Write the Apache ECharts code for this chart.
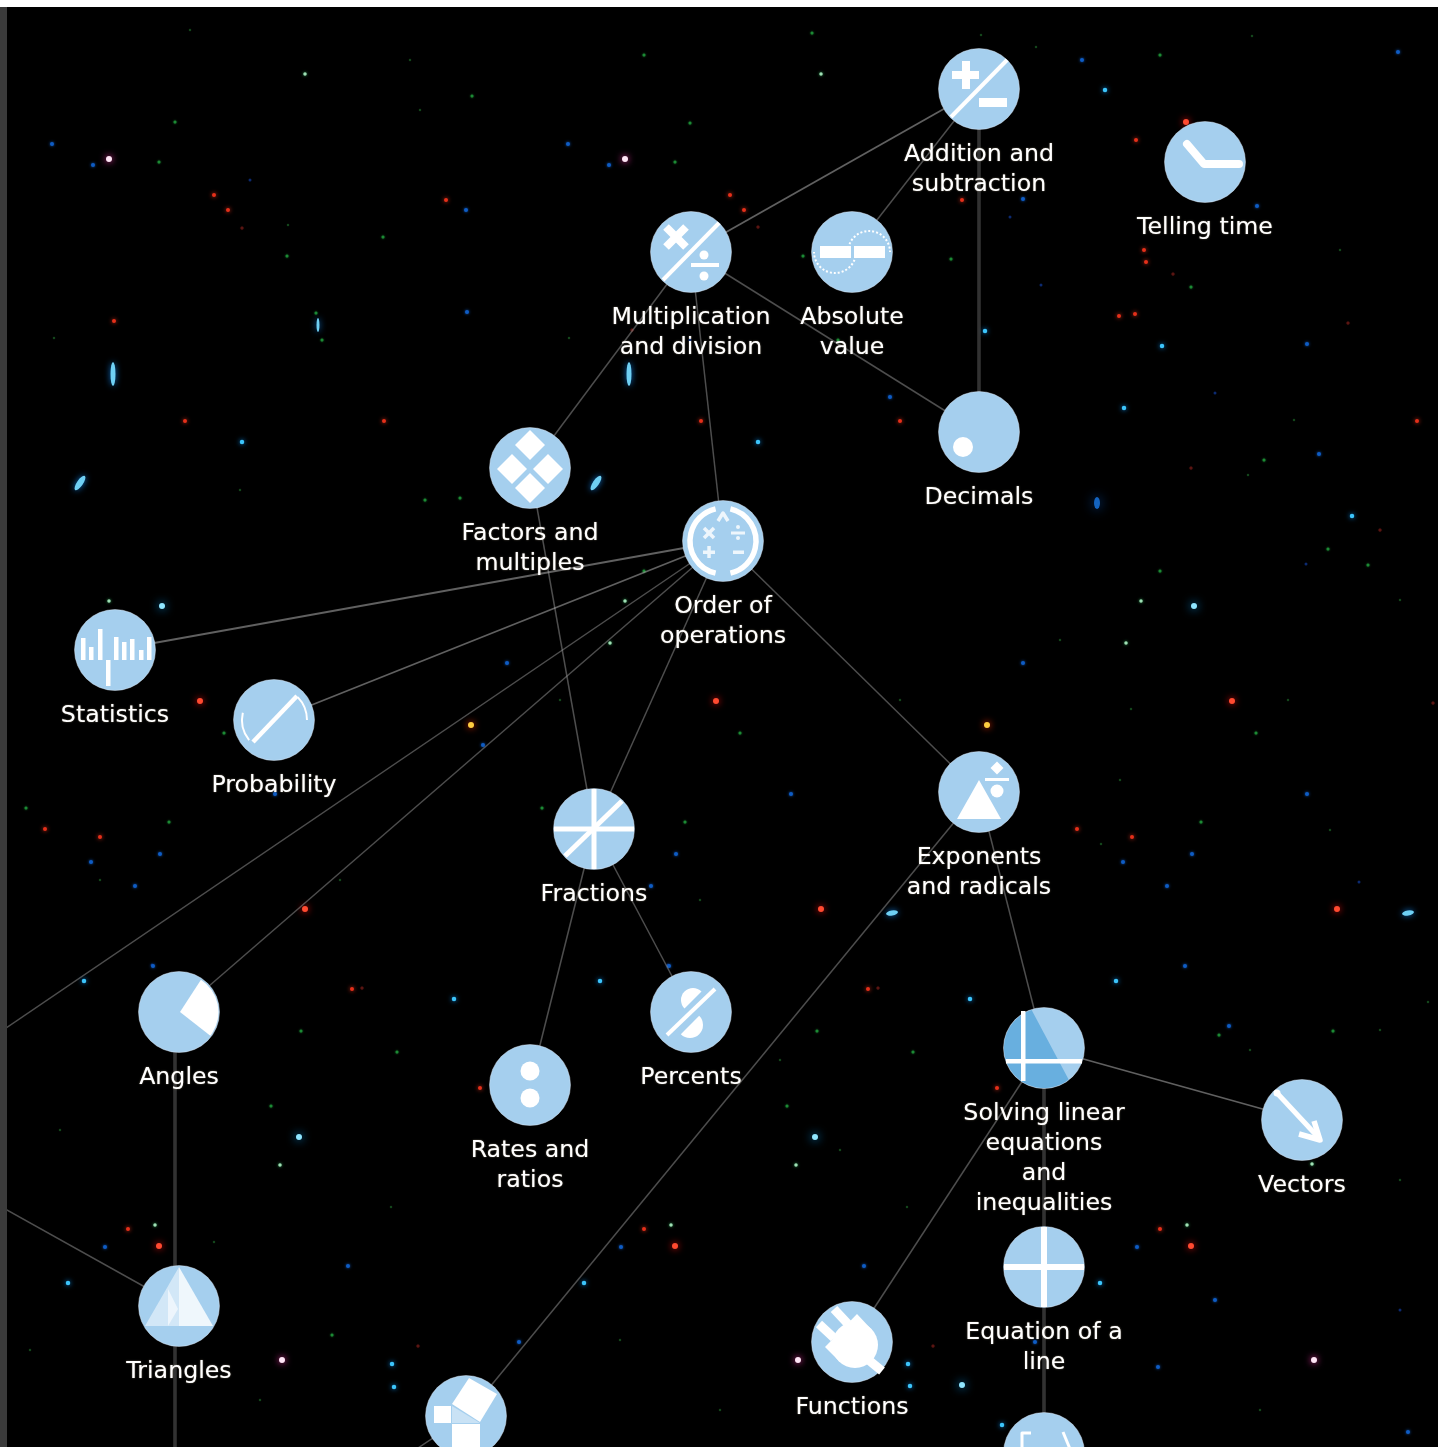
<!DOCTYPE html>
<html><head><meta charset="utf-8">
<style>html,body{margin:0;padding:0;background:#fff}#c{width:1438px;height:1453px}</style>
<script src="https://cdn.jsdelivr.net/npm/echarts@6/dist/echarts.min.js"></script>
</head><body><div id="c"></div>
<script>
// ---- data ----
const nodeNames = ['Addition and\nsubtraction','Telling time','Multiplication\nand division','Absolute\nvalue','Decimals','Factors and\nmultiples','Order of\noperations','Statistics','Probability','Fractions','Exponents\nand radicals','Angles','Percents','Rates and\nratios','Solving linear\nequations\nand\ninequalities','Vectors','Equation of a\nline','Triangles','Functions','Pythagorean theorem','Matrices', 'a','b','c','d','e','f'];
const nodeX = [979,1205,691,852,979,530,723,115,274,594,979,179,691,530,1044,1302,1044,179,852,466,1044, -10,-20,175,175,175,400];
const nodeY = [89,162,252,252,432,468,541,650,720,829,792,1012,1012,1085,1048,1120,1267,1306,1342,1416,1453, 1039,1195,1040,1470,1040,1460];
const nodeIcons = ['plusminus','clock','timesdiv','absolute','decimal','factors','order','stats','prob','fractions','exponents','angles','percents','rates','solving','vectors','equation','triangles','plug','pyth','matrix'];
const edgesThin = [[0,3],[2,4],[2,5],[2,6],[5,9],[6,9],[6,10],[6,21],[6,11],[9,13],[9,12],[10,14],[10,19],[14,18],[17,22],[19,26]];
const edgesBright = [[0,2],[6,7],[6,8],[14,15]];
const edgesThick = [[0,4],[14,16],[16,20],[23,24]];
const starsPink = [[109,159],[625,159],[282,1360],[798,1360],[1314,1360]];
const starsCyanBig = [[162,606],[1194,606],[299,1137],[815,1137],[962,1385]];
const starsCyan = [[1105,90],[985,331],[1162,346],[242,442],[758,442],[1352,516],[84,981],[600,981],[1116,981],[454,999],[970,999],[392,1364],[908,1364],[1100,1283],[1002,1425],[68,1283],[584,1283],[1124,408],[394,1387],[910,1386]];
const starsBlue = [[93,165],[609,165],[52,144],[568,144],[467,312],[890,397],[1398,52],[1215,1300],[1408,1432],[160,854],[676,854],[1192,854],[91,862],[607,862],[1123,862],[135,886],[651,886],[1167,886],[153,966],[669,966],[1185,966],[483,745],[348,1266],[864,1266],[507,663],[1023,663],[519,1342],[1035,1342],[105,1247],[621,1247],[1137,1247],[1307,344],[1319,454],[1307,794],[791,794],[275,794],[1229,1026],[713,1026],[197,1026],[1082,60],[1023,199],[1257,206],[466,210],[1158,1367]];
const starsRedBig = [[200,701],[716,701],[1232,701],[305,909],[821,909],[1337,909],[159,1246],[675,1246],[1191,1246],[1186,122]];
const starsRed = [[352,989],[868,989],[45,829],[561,829],[1077,829],[128,1229],[644,1229],[1160,1229],[185,421],[701,421],[384,421],[900,421],[1417,421],[1136,140],[1144,250],[1146,262],[1119,316],[1135,314],[114,321],[228,210],[744,210],[214,195],[730,195],[446,200],[962,200],[480,1088],[997,1088],[100,837],[616,837],[1132,837]];
const starsOrange = [[471,725],[987,725]];
const starsGreen = [[224,733],[740,733],[1256,733],[425,500],[460,498],[169,822],[685,822],[1201,822],[159,162],[675,162],[644,55],[1160,55],[812,33],[287,256],[803,256],[1191,287],[322,340],[838,340],[316,313],[301,1031],[817,1031],[1333,1031],[397,1052],[913,1052],[271,1106],[787,1106],[1303,1106],[187,1035],[703,1035],[1219,1035],[332,1335],[848,1335],[1160,571],[644,571],[1328,549],[1368,565],[26,808],[542,808],[1264,460],[472,96],[175,122],[690,123],[383,237],[951,259]];
const starsPale = [[305,74],[821,74],[1126,643],[610,643],[94,643],[1141,601],[625,601],[109,601],[280,1165],[796,1165],[1312,1164],[155,1225],[671,1225],[1187,1225]];
const starsDimGreen = [[190,30],[410,60],[420,110],[288,225],[54,338],[569,338],[1294,420],[1248,475],[1288,700],[1131,709],[1101,844],[391,1207],[907,1207],[214,1242],[1428,1002],[981,35],[1252,36],[1036,47],[240,490],[560,700],[1340,250],[1400,600],[1060,640],[900,700],[100,880],[340,880],[700,900],[1330,830],[780,1060],[1250,1050],[1380,1030],[1400,1180],[620,1340],[720,1410],[1260,1410],[260,1400],[60,1130],[30,1350],[840,1150],[1120,780]];
const starsDimBlue = [[1215,393],[1306,564],[1359,882],[152,965],[668,965],[1010,217],[1041,285],[1400,1310],[690,340],[250,180]];
const starsDimRed = [[758,227],[242,228],[1173,274],[1348,323],[1191,468],[1380,530],[1433,703],[362,988],[878,988],[418,1346],[933,1346],[632,330]];
// x, y, width, height, rotation
const galaxies = [[80,483,6,17,-35],[596,483,6,17,-35],[113,374,5,24,0],[629,374,5,24,0],[318,325,3,14,0],[892,913,12,5,10],[1408,913,12,5,10]];
const dimGalaxies = [[1097,503,6,12,0]];

// ---- icons, drawn in pixels around each node centre ----
const W = '#fff';
const ln = (x1,y1,x2,y2,w,c,cap) => ({type:'line',shape:{x1,y1,x2,y2},style:{stroke:c||W,lineWidth:w,lineCap:cap||'butt',fill:null}});
const rc = (x,y,w,h,c) => ({type:'rect',shape:{x,y,width:w,height:h},style:{fill:c||W}});
const ci = (cx,cy,r,c) => ({type:'circle',shape:{cx,cy,r},style:{fill:c||W}});
const pg = (pts,c) => ({type:'polygon',shape:{points:pts},style:{fill:c||W}});
const pl = (pts,w,c,cap) => ({type:'polyline',shape:{points:pts},style:{stroke:c||W,lineWidth:w,fill:null,lineCap:cap||'butt',lineJoin:'round'}});
const sc = (cx,cy,r,a0,a1) => ({type:'sector',shape:{cx,cy,r,r0:0,startAngle:a0*Math.PI/180,endAngle:a1*Math.PI/180,clockwise:true},style:{fill:W}});
const ar = (cx,cy,r,a0,a1,w,dash,c) => ({type:'arc',shape:{cx,cy,r,startAngle:a0*Math.PI/180,endAngle:a1*Math.PI/180,clockwise:true},style:{stroke:c||W,lineWidth:w,fill:null,lineDash:dash||null}});
const dm = (x,y,h) => pg([[x,y-h],[x+h,y],[x,y+h],[x-h,y]]);
const chord = (a0,a1) => { const p=[]; for(let a=a0;a<=a1;a+=4) p.push([40*Math.cos(a*Math.PI/180),40*Math.sin(a*Math.PI/180)]); return p; };
const P = '#eef6fc';
const icons = {
  plusminus:[ln(-28,28,28,-29,4),rc(-27,-18,27,8),rc(-17,-28,8,28),rc(0,9,28,9)],
  timesdiv:[ln(-28,28,28,-29,4),ln(-25,-25,-5,-5,8),ln(-5,-25,-25,-5,8),rc(0,11,28,4),ci(13,3,4.5),ci(13,24,4.5)],
  clock:[pl([[-18,-18],[-1,2],[34,2]],8,W,'round')],
  absolute:[rc(-32,-6,31,12),rc(2,-6,31,12),ar(17,0,21,180,360,2,[2,2]),ar(-17,0,21,0,180,2,[2,2])],
  decimal:[ci(-16,15,10)],
  factors:[dm(0,-23,15),dm(-18,1,15),dm(18,1,15),dm(0,20,15)],
  order:[ar(0,0,33,-77,77,5.5),ar(0,0,33,103,257,5.5),pl([[-5,-20],[0,-28],[5,-20]],3.5,P),ln(-19,-13,-9,-3,3.5,P),ln(-9,-13,-19,-3,3.5,P),rc(8,-9.5,14,3,P),ci(15,-14,2,P),ci(15,-3,2,P),rc(-20,9.5,12,3.5,P),rc(-15.7,5,3.5,12,P),rc(10,9.5,11,3.5,P)],
  stats:[rc(-34,-12,4.5,22),rc(-26,-3,4.5,13),rc(-17,-21,4.5,31),rc(-9,10,4.5,26),rc(-1,-13,4.5,23),rc(7,-8,4.5,18),rc(15,-11,4.5,21),rc(24,0,4.5,10),rc(32,-13,4.5,23)],
  prob:[ln(-21,22,23,-24,4.5),ar(0,0,32,141,193,2),ar(0,0,33,-44,0,2)],
  fractions:[rc(-40,-2.5,80,5),rc(-2.5,-40,5,80),ln(-29,27,28,-28,5)],
  exponents:[pg([[0,-12],[22,27],[-22,27]]),dm(18,-24,6.5),rc(6,-14,24,3),ci(18,-1,6.5)],
  angles:[sc(1,0,38.5,-57,38)],
  percents:[ln(-24,23,24,-23,4),sc(2,-12,12,135,315),sc(-1,13,13,-45,135)],
  rates:[ci(0,-14,9.5),ci(0,13,9.5)],
  solving:[pg(chord(52,252),'#68afdf'),rc(-23,-37,4.5,70),rc(-38,11,76,4.5)],
  vectors:[ln(-25,-27,16,17,5),ci(-25,-27,3.5),pl([[12,1],[18,20],[-3,14]],5.5)],
  equation:[rc(-40,-3,80,6),rc(-3,-40,6,80)],
  triangles:[pg([[0,-39],[-34,20],[0,20]],'rgba(255,255,255,.5)'),pg([[0,-39],[0,20],[34,20]],'rgba(255,255,255,.82)'),pg([[-11,-17],[-11,20],[-1,3]],'rgba(255,255,255,.6)')],
  plug:[ln(-18,-33,-4,-18,9),ln(-33,-18,-18,-4,9),pg([[5,-28],[-27,5],[-12,20],[20,-12]]),ci(3,3,23),ln(13,15,30,29,9)],
  pyth:[pg([[3,-38],[31,-22],[14,6],[-14,-12]]),rc(-32,-10,17,17),rc(-14,8,28,32),pg([[-14,-10],[14,7],[-14,7]],'#c9e2f5')],
  matrix:[pl([[-13,-20],[-22,-20],[-22,2]],3),pl([[19,-21],[26,-4]],3)]
};

const graphNodes = nodeNames.map((name,i) => ({
  id:'n'+i, name, value:[nodeX[i],nodeY[i]],
  symbolSize: i<21 ? 81 : 0,
  label:{show: i<19}
}));
const edgeStyle = {
  thin:{color:'#9a9a9a',width:1.5},
  bright:{color:'#c0c0c0',width:1.8},
  thick:{color:'#646464',width:3.6}
};
const mk = (list,k) => list.map(e => ({source:'n'+e[0],target:'n'+e[1],lineStyle:edgeStyle[k]}));
const links = [].concat(mk(edgesThick,'thick'),mk(edgesThin,'thin'),mk(edgesBright,'bright'));
const star = (data,size,color,glow,glowColor) => ({type:'scatter',data,symbolSize:size,silent:true,z:1,
  itemStyle:{color,shadowBlur:glow,shadowColor:glowColor||color,opacity:1}});
const gal = (data,color,glow,glowColor) => ({type:'scatter',data,silent:true,z:1,symbolSize:d=>[d[2],d[3]],symbolRotate:d=>d[4],
  itemStyle:{color,shadowBlur:glow,shadowColor:glowColor,opacity:1}});

const chart = echarts.init(document.getElementById('c'),null,{renderer:'canvas'});
chart.setOption({
  animation:false,
  backgroundColor:'#fff',
  grid:{left:0,right:0,top:0,bottom:0,show:true,backgroundColor:'#000',borderWidth:0},
  xAxis:{type:'value',min:0,max:1438,show:false},
  yAxis:{type:'value',min:0,max:1453,inverse:true,show:false},
  graphic:[
    {type:'rect',z:100,shape:{x:0,y:0,width:1438,height:7},style:{fill:'#fff'}},
    {type:'rect',z:100,shape:{x:0,y:1447,width:1438,height:6},style:{fill:'#fff'}},
    {type:'rect',z:100,shape:{x:0,y:7,width:7,height:1440},style:{fill:'#3b3b3b'}}
  ],
  series:[
    star(starsDimGreen,2.5,'#14461c',0),
    star(starsDimBlue,3,'#0c2a70',0),
    star(starsDimRed,3,'#5a1512',1),
    star(starsGreen,3,'#1c8a34',2),
    star(starsPale,3.5,'#9fe0b5',3,'#2a9a50'),
    star(starsBlue,4,'#0f5cc4',3),
    star(starsRed,4,'#e5301a',4),
    star(starsRedBig,6,'#ff4a30',7,'#f01010'),
    star(starsOrange,6,'#ffcc40',7,'#ff3000'),
    star(starsCyan,4.5,'#3cc4fa',5,'#0a8ce8'),
    star(starsCyanBig,6,'#8fe6ff',10,'#0a9cf0'),
    star(starsPink,6,'#ffe6f6',7,'#ff3ab0'),
    gal(galaxies,'#6fd0f4',6,'#0f70c8'),
    gal(dimGalaxies,'#1464c0',12,'#0a4aa0'),
    {type:'graph',coordinateSystem:'cartesian2d',layout:'none',z:3,silent:true,
     data:graphNodes,links,
     symbol:'circle',edgeSymbol:['none','none'],
     itemStyle:{color:'#a5cfee',borderColor:'rgba(225,235,245,.55)',borderWidth:0.8,opacity:1},
     label:{position:'bottom',distance:10,color:'#fff',fontFamily:'DejaVu Sans',fontSize:23.7,lineHeight:30,align:'center',
            textShadowColor:'rgba(255,235,200,.55)',textShadowBlur:1.5,formatter:'{b}'}},
    {type:'custom',coordinateSystem:'cartesian2d',z:4,silent:true,clip:false,
     data:nodeIcons.map((n,i)=>[nodeX[i],nodeY[i],i]),
     renderItem:(p,api)=>{
       const c=api.coord([api.value(0),api.value(1)]);
       return {type:'group',x:c[0],y:c[1],children:icons[nodeIcons[api.value(2)]].map(o=>Object.assign({},o))};
     }}
  ]
});
</script></body></html>
